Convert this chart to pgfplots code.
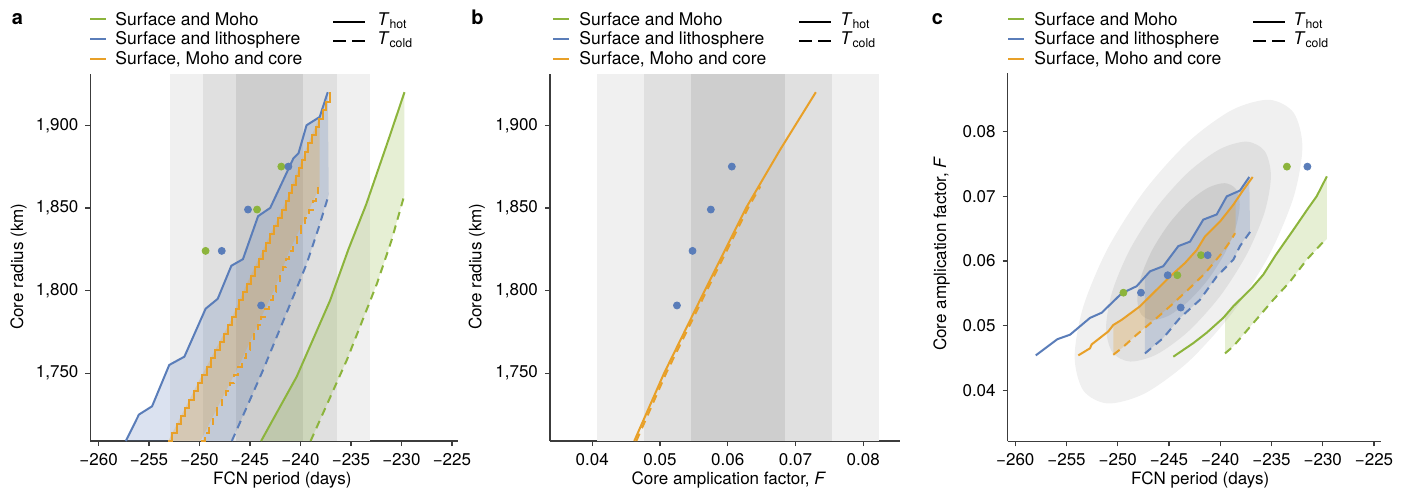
\documentclass[border=0pt]{standalone}
\usepackage{fontspec}
\setmainfont{TeX Gyre Heros}
\usepackage{pgfplots}
\pgfplotsset{compat=1.18}
\definecolor{cgreen}{RGB}{140,180,60}
\definecolor{cblue}{RGB}{90,125,185}
\definecolor{corange}{RGB}{232,160,40}
\definecolor{g1}{RGB}{240,240,240}
\definecolor{g2}{RGB}{224,224,224}
\definecolor{g3}{RGB}{206,206,206}
\definecolor{axc}{RGB}{60,60,60}
\newcommand{\fs}{\fontsize{8.5}{10}\selectfont}
\pgfplotsset{
  panel/.style={
    scale only axis, anchor=south west,
    axis x line*=bottom, axis y line*=left,
    enlargelimits=false, scaled ticks=false,
    axis line style={axc, line width=0.65pt},
    tick style={axc, line width=0.6pt},
    tick align=outside,
    major tick length=2.5pt,
    ticklabel style={font=\fs},
    label style={font=\fs},
  },
  hot/.style={line width=1pt},
  cold/.style={line width=1pt, dash pattern=on 4pt off 3pt},
  dot/.style={only marks, mark=*, mark size=1.75pt},
}
\newcommand{\legendblock}[4]{%
  \draw[cgreen, line width=1.1pt] (#1,19) -- ++(16,0);
  \draw[cblue, line width=1.1pt] (#1,39) -- ++(16,0);
  \draw[corange, line width=1.1pt] (#1,59) -- ++(16,0);
  \node[anchor=base west, inner sep=0] at (#2,25.3) {Surface and Moho};
  \node[anchor=base west, inner sep=0] at (#2,45) {Surface and lithosphere};
  \node[anchor=base west, inner sep=0] at (#2,64.7) {Surface, Moho and core};
  \draw[black, line width=1.1pt] (#3,21.7) -- ++(32,0);
  \draw[black, line width=1.1pt, dash pattern=on 6.5pt off 3pt] (#3,40.7) -- ++(32,0);
  \node[anchor=base west, inner sep=0] at (#4,26) {\textit{T}\textsubscript{hot}};
  \node[anchor=base west, inner sep=0] at (#4,45) {\textit{T}\textsubscript{cold}};
}
\begin{document}
\begin{tikzpicture}[font=\fontsize{8.75}{10}\selectfont]
\useasboundingbox (0,0) rectangle (702.5pt,246.5pt);

% ---------------- panel a ----------------
\begin{axis}[panel, at={(45.25pt,26pt)}, width=183.75pt, height=183.5pt,
  xmin=-260.8, xmax=-224.4, ymin=1709, ymax=1931,
  xtick={-260,-255,-250,-245,-240,-235,-230,-225},
  xticklabels={−260,−255,−250,−245,−240,−235,−230,−225},
  ytick={1750,1800,1850,1900},
  yticklabels={{1,750},{1,800},{1,850},{1,900}},
  xlabel={FCN period (days)}, ylabel={Core radius (km)},
  xlabel style={at={(axis description cs:0.522,-0.106)}, anchor=center},
  ylabel style={at={(axis description cs:-0.196,0.475)}, anchor=center}]
\addplot[draw=none, fill=g1] coordinates {(-252.96,1709) (-233.10,1709) (-233.10,1931) (-252.96,1931)} -- cycle;
\addplot[draw=none, fill=g2] coordinates {(-249.65,1709) (-236.41,1709) (-236.41,1931) (-249.65,1931)} -- cycle;
\addplot[draw=none, fill=g3] coordinates {(-246.34,1709) (-239.72,1709) (-239.72,1931) (-246.34,1931)} -- cycle;
% fills
\addplot[draw=none, fill=cgreen, fill opacity=0.22] coordinates {(-243.9,1709) (-240.37,1748) (-237.07,1794) (-235.25,1825) (-233.5,1852) (-231.3,1891) (-229.7,1920) (-229.7,1858) (-231.0,1830) (-232.44,1804) (-235.41,1758) (-239.0,1709)} -- cycle;
\addplot[draw=none, fill=cblue, fill opacity=0.22] coordinates {(-257.3,1709) (-256.0,1725) (-254.7,1730) (-253.0,1755) (-251.5,1760) (-249.4,1789) (-248.2,1795) (-246.85,1815) (-245.7,1819) (-244.2,1845) (-243.0,1850) (-240.7,1880) (-240.2,1883) (-239.4,1900) (-238.1,1905) (-237.3,1920) (-237.2,1858) (-238.2,1838) (-239.4,1816) (-243.7,1752) (-246.8,1709)} -- cycle;
\addplot[draw=none, fill=corange, fill opacity=0.25] coordinates {(-253.1,1709) (-250.0,1746) (-246.98,1781) (-245.33,1804) (-243.68,1825) (-241.36,1855) (-239.38,1887) (-238.1,1905) (-238.1,1863) (-239.05,1850) (-241.03,1825) (-242.65,1800) (-244.33,1778) (-245.99,1756) (-249.9,1709)} -- cycle;
% lines
\addplot[cgreen, hot] coordinates {(-243.9,1709) (-240.37,1748) (-237.07,1794) (-235.25,1825) (-233.5,1852) (-231.3,1891) (-229.7,1920)};
\addplot[cgreen, cold] coordinates {(-239.0,1709) (-235.41,1758) (-232.44,1804) (-231.0,1830) (-229.7,1858)};
\addplot[cblue, hot] coordinates {(-257.3,1709) (-256.0,1725) (-254.7,1730) (-253.0,1755) (-251.5,1760) (-249.4,1789) (-248.2,1795) (-246.85,1815) (-245.7,1819) (-244.2,1845) (-243.0,1850) (-240.7,1880) (-240.2,1883) (-239.4,1900) (-238.1,1905) (-237.3,1920)};
\addplot[cblue, cold] coordinates {(-246.8,1709) (-243.7,1752) (-239.4,1816) (-238.2,1838) (-237.2,1858)};
\addplot[corange, hot, const plot] coordinates {(-253.10,1709) (-252.68,1714) (-252.26,1719) (-251.85,1724) (-251.42,1729) (-251.01,1734) (-250.59,1739) (-250.17,1744) (-249.74,1749) (-249.31,1754) (-248.88,1759) (-248.45,1764) (-248.02,1769) (-247.58,1774) (-247.15,1779) (-246.76,1784) (-246.41,1789) (-246.05,1794) (-245.69,1799) (-245.33,1804) (-244.94,1809) (-244.54,1814) (-244.15,1819) (-243.76,1824) (-243.37,1829) (-242.98,1834) (-242.60,1839) (-242.21,1844) (-241.82,1849) (-241.44,1854) (-241.11,1859) (-240.80,1864) (-240.49,1869) (-240.18,1874) (-239.87,1879) (-239.57,1884) (-239.23,1889) (-238.87,1894) (-238.50,1899) (-238.13,1904) (-237.80,1909) (-237.47,1914) (-237.07,1920)};
\addplot[corange, cold, const plot] coordinates {(-249.90,1709) (-249.48,1714) (-249.07,1719) (-248.65,1724) (-248.24,1729) (-247.82,1734) (-247.40,1739) (-246.99,1744) (-246.57,1749) (-246.16,1754) (-245.76,1759) (-245.39,1764) (-245.01,1769) (-244.63,1774) (-244.25,1779) (-243.87,1784) (-243.49,1789) (-243.11,1794) (-242.73,1799) (-242.39,1804) (-242.07,1809) (-241.74,1814) (-241.42,1819) (-241.09,1824) (-240.71,1829) (-240.32,1834) (-239.92,1839) (-239.53,1844) (-239.13,1849) (-238.80,1854) (-238.48,1859) (-238.23,1863)};
% dots
\addplot[dot, cgreen] coordinates {(-241.9,1875) (-244.3,1849) (-249.4,1824)};
\addplot[dot, cblue] coordinates {(-241.2,1875) (-245.2,1849) (-247.8,1824) (-243.9,1791)};
\end{axis}

% ---------------- panel b ----------------
\begin{axis}[panel, at={(275pt,26pt)}, width=175pt, height=183.5pt,
  xmin=0.03376, xmax=0.08542, ymin=1709, ymax=1931,
  xtick={0.04,0.05,0.06,0.07,0.08},
  xticklabels={0.04,0.05,0.06,0.07,0.08},
  ytick={1750,1800,1850,1900},
  yticklabels={{1,750},{1,800},{1,850},{1,900}},
  xlabel={Core amplication factor, \textit{F}}, ylabel={Core radius (km)},
  xlabel style={at={(axis description cs:0.511,-0.106)}, anchor=center},
  ylabel style={at={(axis description cs:-0.209,0.475)}, anchor=center}]
\addplot[draw=none, fill=g1] coordinates {(0.0407,1709) (0.0823,1709) (0.0823,1931) (0.0407,1931)} -- cycle;
\addplot[draw=none, fill=g2] coordinates {(0.0476,1709) (0.0754,1709) (0.0754,1931) (0.0476,1931)} -- cycle;
\addplot[draw=none, fill=g3] coordinates {(0.0546,1709) (0.0685,1709) (0.0685,1931) (0.0546,1931)} -- cycle;
\addplot[corange, cold] coordinates {(0.0465,1709) (0.0509,1750) (0.0569,1800) (0.0630,1850) (0.0648,1863)};
\addplot[corange, hot] coordinates {(0.0462,1709) (0.0506,1750) (0.0566,1800) (0.0627,1850) (0.0677,1885) (0.0730,1920)};
\addplot[dot, cblue] coordinates {(0.0606,1875) (0.0575,1849) (0.0548,1824) (0.0525,1791)};
\end{axis}

% ---------------- panel c ----------------
\begin{axis}[panel, at={(503.85pt,25.85pt)}, width=186.5pt, height=184.3pt,
  xmin=-260.74, xmax=-224.35, ymin=0.03211, ymax=0.08913,
  xtick={-260,-255,-250,-245,-240,-235,-230,-225},
  xticklabels={−260,−255,−250,−245,−240,−235,−230,−225},
  ytick={0.04,0.05,0.06,0.07,0.08},
  yticklabels={0.04,0.05,0.06,0.07,0.08},
  xlabel={FCN period (days)}, ylabel={Core amplication factor, \textit{F}},
  xlabel style={at={(axis description cs:0.516,-0.105)}, anchor=center},
  ylabel style={at={(axis description cs:-0.177,0.509)}, anchor=center}]
% confidence ellipses
\addplot[draw=none, fill=g1, smooth] coordinates {(-232.84,0.06992) (-231.99,0.07767) (-232.84,0.08294) (-235.24,0.08494) (-238.85,0.08337) (-243.10,0.07846) (-247.35,0.07096) (-250.96,0.06201) (-253.36,0.05298) (-254.21,0.04524) (-253.36,0.03996) (-250.96,0.03796) (-247.35,0.03953) (-243.10,0.04444) (-238.85,0.05194) (-235.24,0.06089) (-232.84,0.06992) (-231.99,0.07767) (-232.84,0.08294)};
\addplot[draw=none, fill=g2, smooth] coordinates {(-235.67,0.06758) (-235.06,0.07319) (-235.67,0.07701) (-237.42,0.07846) (-240.02,0.07732) (-243.10,0.07376) (-246.18,0.06833) (-248.79,0.06186) (-250.53,0.05532) (-251.14,0.04971) (-250.53,0.04589) (-248.79,0.04445) (-246.18,0.04558) (-243.10,0.04914) (-240.02,0.05457) (-237.42,0.06104) (-235.67,0.06758) (-235.06,0.07319) (-235.67,0.07701)};
\addplot[draw=none, fill=g3, smooth] coordinates {(-238.48,0.06527) (-238.10,0.06876) (-238.48,0.07114) (-239.56,0.07204) (-241.19,0.07133) (-243.10,0.06912) (-245.01,0.06574) (-246.64,0.06170) (-247.72,0.05763) (-248.10,0.05414) (-247.72,0.05177) (-246.64,0.05086) (-245.01,0.05157) (-243.10,0.05379) (-241.19,0.05716) (-239.56,0.06120) (-238.48,0.06527) (-238.10,0.06876) (-238.48,0.07114)};
% fills
\addplot[draw=none, fill=cgreen, fill opacity=0.22] coordinates {(-239.54,0.0457) (-239.54,0.0515) (-238.73,0.0530) (-236.94,0.0558) (-235.8,0.0579) (-234.6,0.0609) (-232.88,0.0648) (-231.41,0.0682) (-230.6,0.0700) (-229.6,0.0731) (-229.6,0.0634) (-231.57,0.0602) (-233.2,0.0568) (-234.83,0.0540) (-236.78,0.0504) (-238.73,0.0468)} -- cycle;
\addplot[draw=none, fill=cblue, fill opacity=0.22] coordinates {(-247.35,0.0457) (-247.35,0.0576) (-246.86,0.0584) (-245.56,0.0592) (-244.1,0.0623) (-242.95,0.0630) (-241.66,0.0664) (-240.35,0.0672) (-239.37,0.0700) (-238.08,0.0709) (-237.17,0.0730) (-237.1,0.0647) (-238.08,0.0623) (-238.73,0.0602) (-240.35,0.0576) (-241.98,0.0540) (-243.93,0.0512) (-245.56,0.0481)} -- cycle;
\addplot[draw=none, fill=corange, fill opacity=0.25] coordinates {(-250.44,0.0455) (-250.44,0.0501) (-249.62,0.0509) (-247.83,0.0530) (-246.37,0.0553) (-244.9,0.0576) (-243.44,0.0597) (-242.3,0.0617) (-241.49,0.0638) (-240.03,0.0661) (-238.73,0.0687) (-238.5,0.0691) (-238.5,0.0643) (-239.05,0.0630) (-239.86,0.0612) (-241.49,0.0581) (-243.12,0.0556) (-244.9,0.0530) (-246.2,0.0512) (-248.16,0.0486) (-249.62,0.0465)} -- cycle;
% lines
\addplot[cgreen, hot] coordinates {(-244.58,0.0452) (-242.63,0.0473) (-241.33,0.0489) (-239.71,0.0512) (-238.73,0.0530) (-236.94,0.0558) (-235.8,0.0579) (-234.6,0.0609) (-232.88,0.0648) (-231.41,0.0682) (-230.6,0.0700) (-229.6,0.0731)};
\addplot[cgreen, cold] coordinates {(-239.54,0.0457) (-238.73,0.0468) (-236.78,0.0504) (-234.83,0.0540) (-233.2,0.0568) (-231.57,0.0602) (-229.7,0.0634)};
\addplot[cblue, hot] coordinates {(-258.0,0.0454) (-255.9,0.0479) (-254.66,0.0486) (-252.71,0.0512) (-251.57,0.0520) (-249.62,0.0550) (-248.16,0.0561) (-246.86,0.0584) (-245.56,0.0592) (-244.1,0.0623) (-242.95,0.0630) (-241.66,0.0664) (-240.35,0.0672) (-239.37,0.0700) (-238.08,0.0709) (-237.17,0.0730)};
\addplot[cblue, cold] coordinates {(-247.35,0.0457) (-245.56,0.0481) (-243.93,0.0512) (-241.98,0.0540) (-240.35,0.0576) (-238.73,0.0602) (-238.08,0.0623) (-237.0,0.0647)};
\addplot[corange, hot] coordinates {(-253.85,0.0454) (-252.71,0.0465) (-252.55,0.0471) (-250.93,0.0491) (-250.44,0.0501) (-249.62,0.0509) (-247.83,0.0530) (-246.37,0.0553) (-244.9,0.0576) (-243.44,0.0597) (-242.3,0.0617) (-241.49,0.0638) (-240.03,0.0661) (-238.73,0.0687) (-237.75,0.0710) (-236.84,0.0730)};
\addplot[corange, cold] coordinates {(-250.44,0.0455) (-249.62,0.0465) (-248.16,0.0486) (-246.2,0.0512) (-244.9,0.0530) (-243.12,0.0556) (-241.49,0.0581) (-239.86,0.0612) (-239.05,0.0630) (-238.56,0.0643)};
% dots
\addplot[dot, cgreen] coordinates {(-233.5,0.0746) (-249.45,0.0551) (-244.19,0.0578) (-241.88,0.0609)};
\addplot[dot, cblue] coordinates {(-231.5,0.0746) (-247.74,0.0551) (-245.13,0.0578) (-241.23,0.0609) (-243.86,0.0528)};
\end{axis}

% ---------------- legends and panel letters ----------------
\begin{scope}[x=0.5pt, y=-0.5pt, yshift=246.5pt]
\legendblock{90}{115}{333}{377}
\legendblock{553}{579}{799}{840}
\legendblock{1008}{1034}{1253}{1293}
\node[anchor=base, inner sep=0, font=\fontsize{10}{12}\selectfont\bfseries] at (17.5,25) {a};
\node[anchor=base, inner sep=0, font=\fontsize{10}{12}\selectfont\bfseries] at (477.5,25) {b};
\node[anchor=base, inner sep=0, font=\fontsize{10}{12}\selectfont\bfseries] at (937.5,25) {c};
\end{scope}
\end{tikzpicture}
\end{document}
